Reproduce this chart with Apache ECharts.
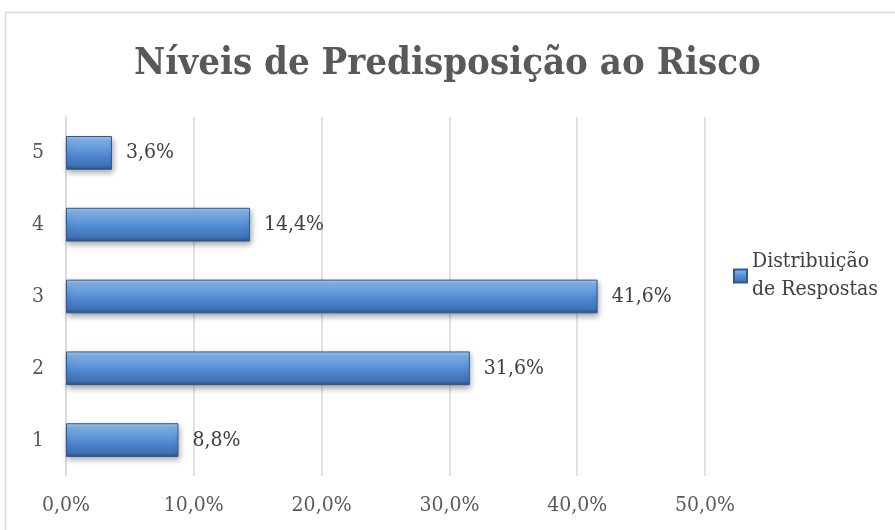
<!DOCTYPE html>
<html><head><meta charset="utf-8">
<script src="https://cdn.jsdelivr.net/npm/echarts@6/dist/echarts.min.js"></script>
<style>html,body{margin:0;padding:0;background:#fff}#c{width:895px;height:530px}</style>
</head><body><div id="c"></div>
<script>
const categories = ['1','2','3','4','5'];
const values = [8.8, 31.6, 41.6, 14.4, 3.6];
const seriesName = 'Distribuição\nde Respostas';
const ff = '"DejaVu Serif Condensed", "DejaVu Serif", serif';
const chart = echarts.init(document.getElementById('c'));
chart.setOption({
  animation: false,
  graphic: [{type:'rect', shape:{x:5.5,y:12.5,width:900,height:530}, style:{fill:'none', stroke:'#d9d9d9', lineWidth:1.5}}],
  title: {text:'Níveis de Predisposição ao Risco', left:'center', top:40,
    textStyle:{fontFamily:ff, fontSize:38, fontWeight:'bold', color:'#595959'}},
  legend: {data:[{name:seriesName, icon:'rect'}], orient:'vertical', left:728, top:243,
    itemWidth:13, itemHeight:13, itemGap:4,
    textStyle:{fontFamily:ff, fontSize:21, color:'#404040', lineHeight:28}},
  grid: {left:66, right:190, top:117, bottom:54},
  xAxis: {type:'value', min:0, max:50, interval:10,
    axisLabel:{formatter:v=>v.toFixed(1).replace('.',',')+'%', fontFamily:ff, fontSize:21, color:'#595959', margin:19},
    axisLine:{show:false}, axisTick:{show:false},
    splitLine:{lineStyle:{color:'#d9d9d9', width:1.5}}},
  yAxis: {type:'category', data:categories,
    axisLabel:{fontFamily:ff, fontSize:21, color:'#595959', margin:22},
    axisLine:{show:true, lineStyle:{color:'#d9d9d9', width:1.5}}, axisTick:{show:false}},
  series: [{name:seriesName, type:'bar', data:values, barCategoryGap:'53%',
    itemStyle:{
      color:new echarts.graphic.LinearGradient(0,0,0,1,[
        {offset:0,color:'#a6cbf3'},{offset:0.12,color:'#82b1e8'},{offset:0.55,color:'#5189d2'},{offset:0.88,color:'#3f72b6'},{offset:1,color:'#2a4f86'}]),
      borderColor:'#2f5890', borderWidth:1,
      shadowColor:'rgba(0,0,0,0.35)', shadowBlur:6, shadowOffsetY:3, shadowOffsetX:1},
    label:{show:true, position:'right', distance:14, formatter:p=>p.value.toFixed(1).replace('.',',')+'%',
      fontFamily:ff, fontSize:21, color:'#404040'}
  }]
});
</script></body></html>
